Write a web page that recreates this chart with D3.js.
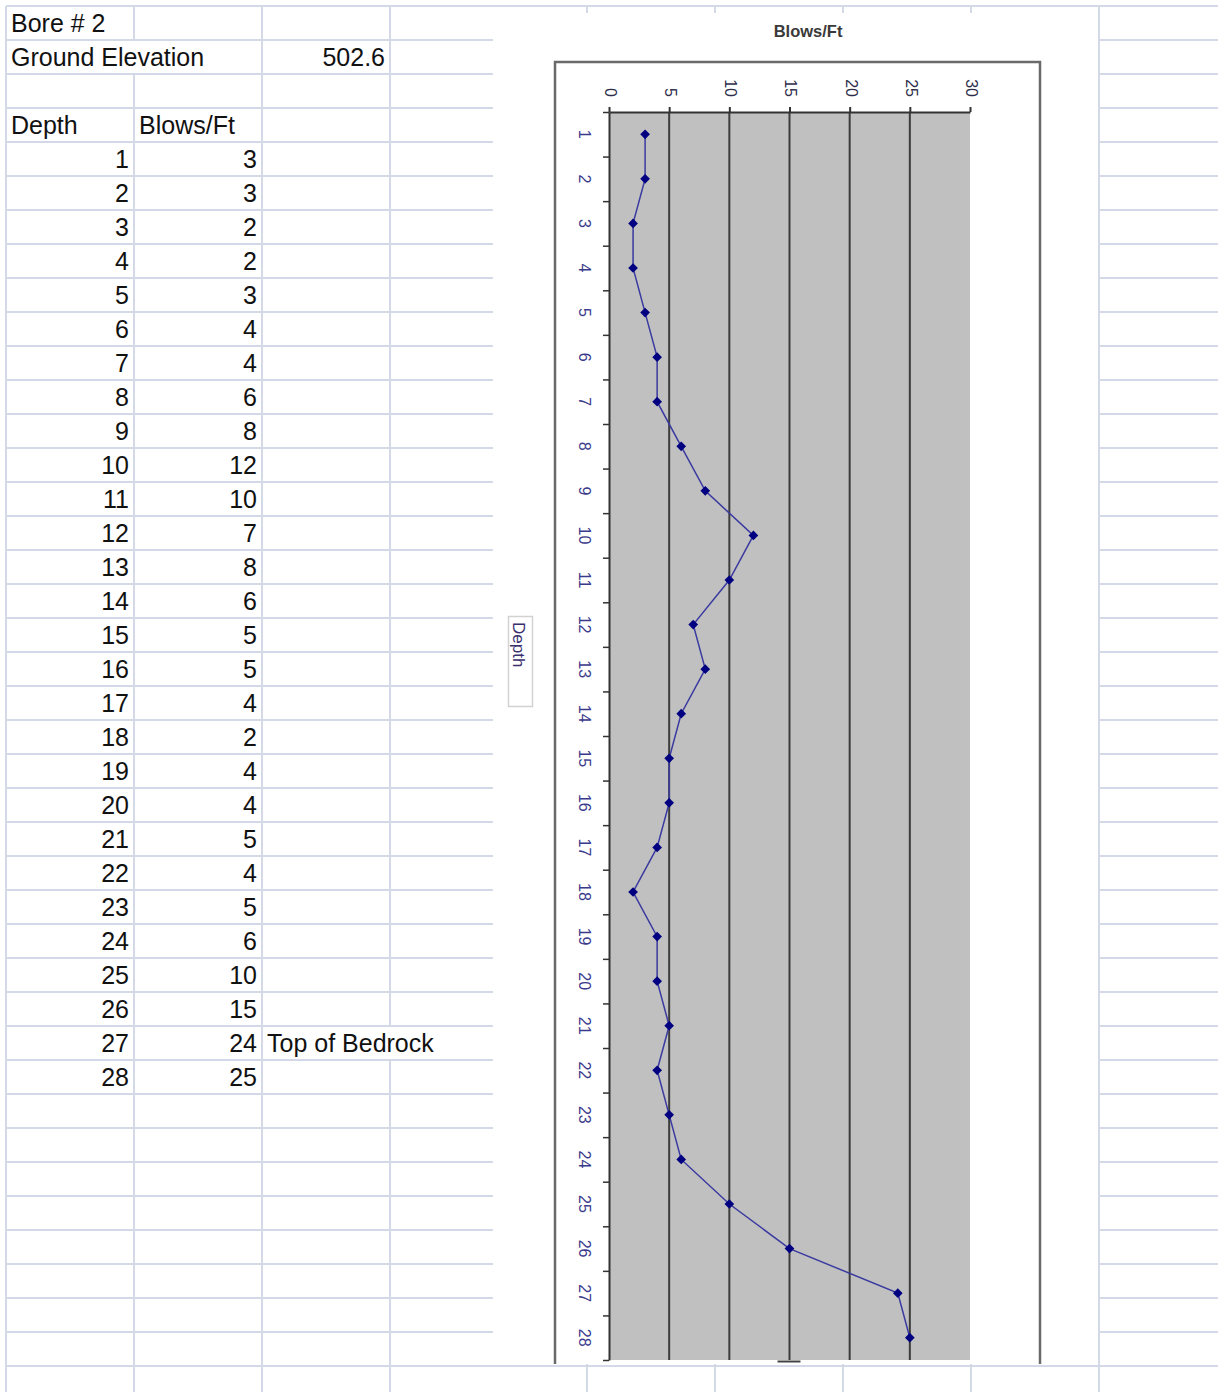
<!DOCTYPE html>
<html>
<head>
<meta charset="utf-8">
<script src="https://cdn.jsdelivr.net/npm/d3@7"></script>
<style>
  html, body { margin: 0; padding: 0; background: #fff; }
  svg { display: block; font-family: "Liberation Sans", Arial, sans-serif; }
</style>
</head>
<body>
<svg id="sheet" width="1225" height="1392"></svg>
<script>
// Boring log: standard penetration test blow counts by depth
const boreTitle = "Bore # 2";
const elevationLabel = "Ground Elevation";
const groundElevation = "502.6";
const columnHeaders = ["Depth", "Blows/Ft"];
const depths = [1, 2, 3, 4, 5, 6, 7, 8, 9, 10, 11, 12, 13, 14, 15, 16, 17, 18, 19, 20, 21, 22, 23, 24, 25, 26, 27, 28];
const blows = [3, 3, 2, 2, 3, 4, 4, 6, 8, 12, 10, 7, 8, 6, 5, 5, 4, 2, 4, 4, 5, 4, 5, 6, 10, 15, 24, 25];
const notes = [{ depth: 27, text: "Top of Bedrock" }];
const blowTicks = [0, 5, 10, 15, 20, 25, 30];
const chartTitle = "Blows/Ft";
const depthTitle = "Depth";

const svg = d3.select("#sheet");

// ---------- worksheet grid ----------
const rowTop = 6, rowH = 34, rowCount = 40;
const colX = [6, 134, 262, 390, 587, 715, 843, 971, 1099];
const gridColor = "#d3d9e6";
const grid = svg.append("g").attr("stroke", gridColor).attr("stroke-width", 2);

const rowY = d3.range(rowCount + 1).map(i => rowTop + i * rowH);
grid.selectAll("line.row").data(rowY).join("line")
  .attr("class", "row")
  .attr("x1", 6).attr("x2", 1218)
  .attr("y1", d => d).attr("y2", d => d);

// row index (0-based) of each depth entry in the table
const dataRow0 = 4;
const noteRows = notes.map(n => dataRow0 + depths.indexOf(n.depth));
// cells whose text spills over into the next column hide that border
const hiddenBorders = [
  { x: 134, rows: [1] },
  { x: 390, rows: noteRows }
];
colX.forEach(x => {
  const hide = (hiddenBorders.find(h => h.x === x) || { rows: [] }).rows;
  let start = rowTop;
  const segs = [];
  hide.slice().sort((a, b) => a - b).forEach(r => {
    segs.push([start, rowTop + r * rowH]);
    start = rowTop + (r + 1) * rowH;
  });
  segs.push([start, 1392]);
  segs.forEach(s => grid.append("line")
    .attr("x1", x).attr("x2", x).attr("y1", s[0]).attr("y2", s[1]));
});

// ---------- worksheet text ----------
const cellText = svg.append("g").attr("font-size", 25).attr("fill", "#111");
const baseline = r => rowTop + r * rowH + 26;
cellText.append("text").attr("x", 11).attr("y", baseline(0)).text(boreTitle);
cellText.append("text").attr("x", 11).attr("y", baseline(1)).text(elevationLabel);
cellText.append("text").attr("x", 385).attr("y", baseline(1)).attr("text-anchor", "end").text(groundElevation);
cellText.append("text").attr("x", 11).attr("y", baseline(3)).text(columnHeaders[0]);
cellText.append("text").attr("x", 139).attr("y", baseline(3)).text(columnHeaders[1]);
cellText.selectAll("text.depth").data(depths).join("text")
  .attr("class", "depth")
  .attr("x", 129).attr("y", (d, i) => baseline(dataRow0 + i))
  .attr("text-anchor", "end").text(d => d);
cellText.selectAll("text.blows").data(blows).join("text")
  .attr("class", "blows")
  .attr("x", 257).attr("y", (d, i) => baseline(dataRow0 + i))
  .attr("text-anchor", "end").text(d => d);
cellText.selectAll("text.note").data(notes).join("text")
  .attr("class", "note")
  .attr("x", 267).attr("y", d => baseline(dataRow0 + depths.indexOf(d.depth)))
  .text(d => d.text);

// ---------- embedded chart ----------
const chart = svg.append("g");
chart.append("rect").attr("x", 493).attr("y", 13).attr("width", 605).attr("height", 1351).attr("fill", "#fff");
// right-hand column border drawn over the chart edge
svg.append("line").attr("x1", 1099).attr("x2", 1099).attr("y1", 6).attr("y2", 1392)
  .attr("stroke", gridColor).attr("stroke-width", 2);

const plot = { left: 609, right: 970, top: 112, bottom: 1360 };
const x = d3.scaleLinear().domain([0, 30]).range([plot.left, plot.right]);
const y = d3.scaleBand().domain(depths).range([plot.top, plot.bottom]).padding(0);
const yEdge = d3.scaleLinear().domain([0, depths.length]).range([plot.top, plot.bottom]);

// chart title
chart.append("text").attr("x", 808).attr("y", 37)
  .attr("text-anchor", "middle").attr("font-size", 16.5).attr("font-weight", "bold")
  .attr("fill", "#3a3a3a").text(chartTitle);

// plot-area frame (its lower edge runs past the chart window)
const clip = svg.append("clipPath").attr("id", "chartClip");
clip.append("rect").attr("x", 493).attr("y", 13).attr("width", 605).attr("height", 1351);
chart.append("rect").attr("clip-path", "url(#chartClip)")
  .attr("x", 555).attr("y", 62).attr("width", 485).attr("height", 1340)
  .attr("fill", "none").attr("stroke", "#6a6a6a").attr("stroke-width", 2.5);

// grey plot background
chart.append("rect").attr("x", plot.left).attr("y", plot.top)
  .attr("width", plot.right - plot.left).attr("height", plot.bottom - plot.top)
  .attr("fill", "#c0c0c0");

// vertical gridlines
chart.append("g").selectAll("line").data(blowTicks.filter(v => v > 0 && v < 30)).join("line")
  .attr("x1", d => x(d)).attr("x2", d => x(d))
  .attr("y1", plot.top).attr("y2", plot.bottom)
  .attr("stroke", "#3c3c3c").attr("stroke-width", 2);

// small cap at the foot of the 15 gridline
chart.append("line").attr("x1", x(15) - 12).attr("x2", x(15) + 11)
  .attr("y1", plot.bottom + 1.5).attr("y2", plot.bottom + 1.5)
  .attr("stroke", "#444").attr("stroke-width", 2);

// top value axis
const xAxis = chart.append("g").attr("transform", `translate(0,${plot.top})`)
  .call(d3.axisTop(x).tickValues(blowTicks).tickSize(5).tickSizeOuter(0).tickPadding(0));
xAxis.select(".domain").attr("stroke", "#333").attr("stroke-width", 2);
xAxis.selectAll(".tick line").attr("stroke", "#333").attr("stroke-width", 2);
xAxis.selectAll(".tick text")
  .attr("font-size", 16).attr("fill", "#2e2e4a").attr("font-family", null)
  .attr("text-anchor", "end").attr("x", 0).attr("y", 0).attr("dy", "0.35em")
  .attr("transform", "translate(1,-15) rotate(90)");

// left depth axis: boundary ticks and centred labels
const yTicks = chart.append("g").attr("transform", `translate(${plot.left},0)`)
  .call(d3.axisLeft(yEdge).tickValues(d3.range(depths.length + 1)).tickSize(6).tickSizeOuter(0).tickFormat(""));
yTicks.select(".domain").attr("stroke", "#333").attr("stroke-width", 2);
yTicks.selectAll(".tick line").attr("stroke", "#333").attr("stroke-width", 1.5);

const yLabels = chart.append("g").attr("transform", `translate(${plot.left},0)`)
  .call(d3.axisLeft(y).tickSize(0).tickPadding(0));
yLabels.select(".domain").remove();
yLabels.selectAll(".tick text")
  .attr("font-size", 16).attr("fill", "#3a3a8c").attr("font-family", null)
  .attr("text-anchor", "middle").attr("x", 0).attr("y", 0).attr("dy", "0.35em")
  .attr("transform", "translate(-24,0) rotate(90)");

// depth axis title in its box
chart.append("rect").attr("x", 508.5).attr("y", 616.5).attr("width", 24).attr("height", 90)
  .attr("fill", "#fff").attr("stroke", "#d2d2d2").attr("stroke-width", 1.5);
chart.append("text").attr("transform", "translate(513,622) rotate(90)")
  .attr("font-size", 17).attr("fill", "#3a2f6e").text(depthTitle);

// blow-count profile
const series = depths.map((d, i) => ({ depth: d, blows: blows[i] }));
const line = d3.line().x(d => x(d.blows)).y(d => y(d.depth) + y.bandwidth() / 2);
chart.append("path").datum(series).attr("d", line)
  .attr("fill", "none").attr("stroke", "#3a3aa0").attr("stroke-width", 1.5);
chart.append("g").selectAll("path").data(series).join("path")
  .attr("d", d3.symbol(d3.symbolDiamond2, 60))
  .attr("transform", d => `translate(${x(d.blows)},${y(d.depth) + y.bandwidth() / 2})`)
  .attr("fill", "#000080");
</script>
</body>
</html>
